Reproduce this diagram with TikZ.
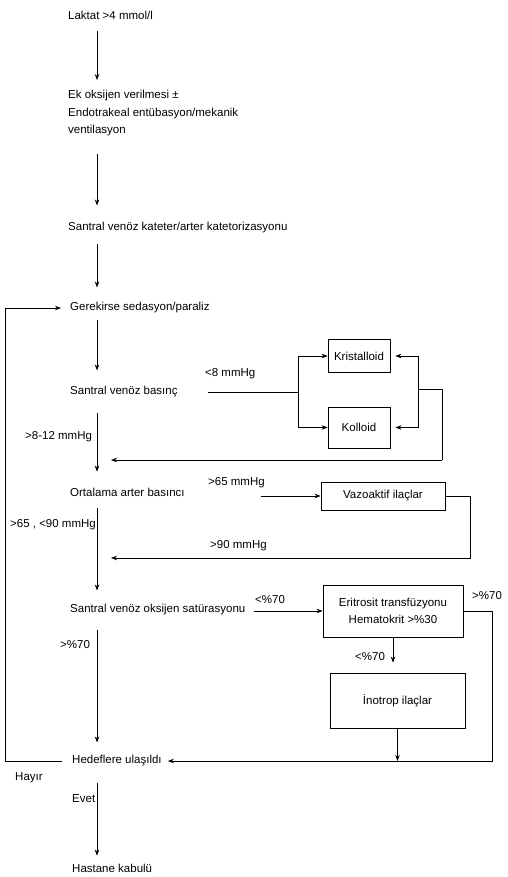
\documentclass[tikz,border=0pt]{standalone}
\usepackage{fontspec}
\setmainfont{Liberation Sans}
\usetikzlibrary{arrows.meta,calc}
\begin{document}
\begin{tikzpicture}[x=1pt,y=-1pt,
  font=\fontsize{11.5}{17.5}\selectfont,
  txt/.style={inner sep=0pt, anchor=west},
  lbl/.style={inner sep=0pt, anchor=west},
  box/.style={draw, line width=0.8pt, inner sep=0pt, align=center},
  arr/.style={-{Stealth[length=6pt,width=4.5pt]}, line width=0.7pt},
  ln/.style={line width=0.8pt}]
\useasboundingbox (0,0) rectangle (507,877);

% main column
\node[txt] (lak) at (68,15) {Laktat >4 mmol/l};
\node[txt, align=left, anchor=north west] (ek) at (68,90) {Ek oksijen verilmesi ±\\Endotrakeal entübasyon/mekanik\\ventilasyon};
\node[txt] (kat) at (68,228) {Santral venöz kateter/arter katetorizasyonu};
\node[txt] (ger) at (70,308) {Gerekirse sedasyon/paraliz};
\node[txt] (svb) at (70,392) {Santral venöz basınç};
\node[txt] (oab) at (70,492) {Ortalama arter basıncı};
\node[txt] (svo) at (70,610) {Santral venöz oksijen satürasyonu};
\node[txt] (hed) at (72,761) {Hedeflere ulaşıldı};
\node[txt] (has) at (72,868) {Hastane kabulü};

% boxes
\node[box, minimum width=62, minimum height=33] (kri) at (359,356) {Kristalloid};
\node[box, minimum width=62, minimum height=41] (kol) at (359,427.5) {Kolloid};
\node[box, minimum width=124, minimum height=28] (vaz) at (383,496) {Vazoaktif ilaçlar};
\node[box, minimum width=140, minimum height=52] (eri) at (393,611) {Eritrosit transfüzyonu\\Hematokrit >\%30};
\node[box, minimum width=135, minimum height=55] (ino) at (397.5,700.5) {İnotrop ilaçlar};

% labels
\node[lbl] (l1) at (205,374) {<8 mmHg};
\node[lbl] (l2) at (25,437) {>8-12 mmHg};
\node[lbl] (l3) at (208,483) {>65 mmHg};
\node[lbl] (l4) at (10,525) {>65 , <90 mmHg};
\node[lbl] (l5) at (210,546) {>90 mmHg};
\node[lbl] (l6) at (255,600) {<\%70};
\node[lbl] (l7) at (472,596) {>\%70};
\node[lbl] (l8) at (355,657) {<\%70};
\node[lbl] (l9) at (60,645) {>\%70};
\node[lbl] (l10) at (15,778) {Hayır};
\node[lbl] (l11) at (72,799) {Evet};

% helper coordinates
\coordinate (x97) at (97,0);
\coordinate (j1) at (298,0);
\coordinate (r1) at (418,0);
\coordinate (fbj) at (418,389);
\coordinate (fb) at (442,460);
\coordinate (v1) at (470,558);
\coordinate (e1) at (492,0);
\coordinate (lp) at (5,0);

% main arrows
\draw[arr, shorten <=12pt, shorten >=10pt] (lak.south -| x97) -- (ek.north -| x97);
\draw[arr, shorten <=18pt, shorten >=17pt] (ek.south -| x97) -- (kat.north -| x97);
\draw[arr, shorten <=10pt, shorten >=15pt] (kat.south -| x97) -- (ger.north -| x97);
\draw[arr, shorten <=6pt, shorten >=16pt] (ger.south -| x97) -- (svb.north -| x97);
\draw[arr, shorten <=15pt, shorten >=16pt] (svb.south -| x97) -- (oab.north -| x97);
\draw[arr, shorten <=12pt, shorten >=14pt] (oab.south -| x97) -- (svo.north -| x97);
\draw[arr, shorten <=14pt, shorten >=13pt] (svo.south -| x97) -- (hed.north -| x97);
\draw[arr, shorten <=16pt, shorten >=8pt] (hed.south -| x97) -- (has.north -| x97);

% CVP branch
\draw[ln, shorten <=30pt] (svb.east) -- (svb.east -| j1);
\draw[arr] (svb.east -| j1) |- (kri.west);
\draw[arr] (svb.east -| j1) |- (kol.west);
\draw[arr, shorten >=5pt] (kri.east -| r1) -- (kri.east);
\draw[arr, shorten >=5pt] (kol.east -| r1) -- (kol.east);
\draw[ln] (kri.east -| r1) -- (kol.east -| r1);
\draw[ln] (fbj) -| (fb);
\draw[arr, shorten >=14pt] (fb) -- (fb -| x97);

% MAP branch
\draw[arr, shorten <=76pt] (oab.east |- vaz.west) -- (vaz.west);
\draw[arr, shorten >=14pt] (vaz.east) -| (v1) -- (v1 -| x97);

% ScvO2 branch
\draw[arr, shorten <=8pt] (svo.east |- eri.west) -- (eri.west);
\draw[arr, shorten >=10pt] (eri.south) -- (eri.south |- ino.north);
\draw[arr, shorten >=6pt] (eri.east) -| (e1 |- hed.east) -- (hed.east);
\draw[arr] (ino.south) -- (ino.south |- hed.east);

% loop back (Hayir)
\draw[arr, shorten <=10pt, shorten >=9pt] (hed.west) -- (hed.west -| lp) -- (ger.west -| lp) -- (ger.west);
\end{tikzpicture}
\end{document}
